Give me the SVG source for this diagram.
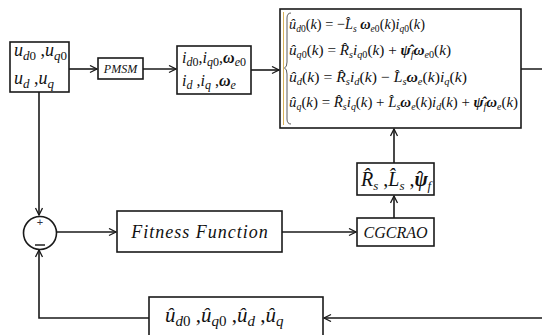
<svg xmlns="http://www.w3.org/2000/svg" width="542" height="335" viewBox="0 0 542 335">
<defs>
<marker id="arr" markerWidth="10" markerHeight="10" refX="8" refY="4" orient="auto" markerUnits="userSpaceOnUse">
<path d="M1,0.5 L8,4 L1,7.5" fill="none" stroke="#1a1a1a" stroke-width="1.3"/>
</marker>
</defs>
<style>
.box{fill:#fff;stroke:#1a1a1a;stroke-width:1.6}
.ln{fill:none;stroke:#1a1a1a;stroke-width:1.6}
.t{font-family:"Liberation Serif","Times New Roman",serif;font-style:italic;fill:#111}
.up{font-style:normal}
.b{font-weight:bold}
</style>
<rect width="542" height="335" fill="#fff"/>
<g id="connectors">
<line class="ln" x1="69" y1="69" x2="97" y2="69" marker-end="url(#arr)"/>
<line class="ln" x1="143" y1="69" x2="176" y2="69" marker-end="url(#arr)"/>
<line class="ln" x1="251" y1="70" x2="279" y2="70" marker-end="url(#arr)"/>
<path class="ln" d="M521,69 H546 V318 H324" marker-end="url(#arr)"/>
<line class="ln" x1="39" y1="92" x2="39" y2="215" marker-end="url(#arr)"/>
<line class="ln" x1="56" y1="232" x2="116" y2="232" marker-end="url(#arr)"/>
<line class="ln" x1="282" y1="232" x2="356" y2="232" marker-end="url(#arr)"/>
<line class="ln" x1="394" y1="218" x2="394" y2="196" marker-end="url(#arr)"/>
<line class="ln" x1="394" y1="163" x2="394" y2="129" marker-end="url(#arr)"/>
<path class="ln" d="M149,318 H39 V250" marker-end="url(#arr)"/>
</g>
<g id="input">
<rect class="box" x="10" y="42" width="59" height="50"/>
<text class="t" x="14" y="56" font-size="18">u<tspan font-size="13" dy="4">d</tspan><tspan font-size="13" class="up">0</tspan><tspan dy="-4" class="up"> ,</tspan>u<tspan font-size="13" dy="4">q</tspan><tspan font-size="13" class="up">0</tspan></text>
<text class="t" x="14" y="84" font-size="18">u<tspan font-size="13" dy="4">d</tspan><tspan dy="-4" class="up"> ,</tspan>u<tspan font-size="13" dy="4">q</tspan></text>
</g>
<g id="pmsm">
<rect class="box" x="98" y="58" width="45" height="21"/>
<text class="t" x="120.5" y="73" font-size="12" text-anchor="middle">PMSM</text>
</g>
<g id="currents">
<rect class="box" x="177" y="46" width="74" height="48"/>
<text class="t" x="182" y="63" font-size="16" textLength="64" lengthAdjust="spacing">i<tspan font-size="12" dy="3">d</tspan><tspan font-size="12" class="up">0</tspan><tspan dy="-3" class="up">,</tspan>i<tspan font-size="12" dy="3">q</tspan><tspan font-size="12" class="up">0</tspan><tspan dy="-3" class="up">,</tspan><tspan class="b">ω</tspan><tspan font-size="12" dy="3">e</tspan><tspan font-size="12" class="up">0</tspan></text>
<text class="t" x="182" y="86" font-size="16">i<tspan font-size="12" dy="3">d</tspan><tspan dy="-3" class="up"> ,</tspan>i<tspan font-size="12" dy="3">q</tspan><tspan dy="-3" class="up"> ,</tspan><tspan class="b">ω</tspan><tspan font-size="12" dy="3">e</tspan></text>
</g>
<g id="equations">
<rect class="box" x="280" y="9" width="241" height="119"/>
<line x1="283.5" y1="12" x2="283.5" y2="125" stroke="#d9b25a" stroke-width="1"/>
<path d="M291,13 Q287,13 287,18 V62 Q287,67 284.5,68 Q287,69 287,74 V119 Q287,124 291,124" fill="none" stroke="#333" stroke-width="0.8"/>
<text class="t" x="289" y="29" font-size="15" textLength="136" lengthAdjust="spacingAndGlyphs">û<tspan font-size="10" dy="3">d</tspan><tspan font-size="10" class="up">0</tspan><tspan dy="-3" class="up">(</tspan>k<tspan class="up">) = −</tspan>L̂<tspan font-size="10" dy="3">s</tspan><tspan dy="-3" class="b"> ω</tspan><tspan font-size="10" dy="3">e</tspan><tspan font-size="10" class="up">0</tspan><tspan dy="-3" class="up">(</tspan>k<tspan class="up">)</tspan>i<tspan font-size="10" dy="3">q</tspan><tspan font-size="10" class="up">0</tspan><tspan dy="-3" class="up">(</tspan>k<tspan class="up">)</tspan></text>
<text class="t" x="289" y="55" font-size="15" textLength="162" lengthAdjust="spacingAndGlyphs">û<tspan font-size="10" dy="3">q</tspan><tspan font-size="10" class="up">0</tspan><tspan dy="-3" class="up">(</tspan>k<tspan class="up">) = </tspan>R̂<tspan font-size="10" dy="3">s</tspan><tspan dy="-3">i</tspan><tspan font-size="10" dy="3">q</tspan><tspan font-size="10" class="up">0</tspan><tspan dy="-3" class="up">(</tspan>k<tspan class="up">) + </tspan><tspan class="b">ψ̂</tspan><tspan font-size="10" dy="3">f</tspan><tspan dy="-3" class="b">ω</tspan><tspan font-size="10" dy="3">e</tspan><tspan font-size="10" class="up">0</tspan><tspan dy="-3" class="up">(</tspan>k<tspan class="up">)</tspan></text>
<text class="t" x="289" y="82" font-size="15" textLength="178" lengthAdjust="spacingAndGlyphs">û<tspan font-size="10" dy="3">d</tspan><tspan dy="-3" class="up">(</tspan>k<tspan class="up">) = </tspan>R̂<tspan font-size="10" dy="3">s</tspan><tspan dy="-3">i</tspan><tspan font-size="10" dy="3">d</tspan><tspan dy="-3" class="up">(</tspan>k<tspan class="up">) − </tspan>L̂<tspan font-size="10" dy="3">s</tspan><tspan dy="-3" class="b">ω</tspan><tspan font-size="10" dy="3">e</tspan><tspan dy="-3" class="up">(</tspan>k<tspan class="up">)</tspan>i<tspan font-size="10" dy="3">q</tspan><tspan dy="-3" class="up">(</tspan>k<tspan class="up">)</tspan></text>
<text class="t" x="289" y="107" font-size="15" textLength="229" lengthAdjust="spacingAndGlyphs">û<tspan font-size="10" dy="3">q</tspan><tspan dy="-3" class="up">(</tspan>k<tspan class="up">) = </tspan>R̂<tspan font-size="10" dy="3">s</tspan><tspan dy="-3">i</tspan><tspan font-size="10" dy="3">q</tspan><tspan dy="-3" class="up">(</tspan>k<tspan class="up">) + </tspan>L̂<tspan font-size="10" dy="3">s</tspan><tspan dy="-3" class="b">ω</tspan><tspan font-size="10" dy="3">e</tspan><tspan dy="-3" class="up">(</tspan>k<tspan class="up">)</tspan>i<tspan font-size="10" dy="3">d</tspan><tspan dy="-3" class="up">(</tspan>k<tspan class="up">) + </tspan><tspan class="b">ψ̂</tspan><tspan font-size="10" dy="3">f</tspan><tspan dy="-3" class="b">ω</tspan><tspan font-size="10" dy="3">e</tspan><tspan dy="-3" class="up">(</tspan>k<tspan class="up">)</tspan></text>
</g>
<g id="params">
<rect class="box" x="357" y="163" width="77" height="32"/>
<text class="t" x="361" y="186" font-size="20">R̂<tspan font-size="13" dy="4">s</tspan><tspan dy="-4" class="up"> ,</tspan>L̂<tspan font-size="13" dy="4">s</tspan><tspan dy="-4" class="up"> ,</tspan><tspan class="b">ψ</tspan><tspan class="up" dx="-11">ˆ</tspan><tspan font-size="13" dy="4" dx="4">f</tspan></text>
</g>
<g id="cgcrao">
<rect class="box" x="357" y="218" width="77" height="28"/>
<text class="t" x="395.5" y="238" font-size="16" text-anchor="middle">CGCRAO</text>
</g>
<g id="fitness">
<rect class="box" x="117" y="211" width="165" height="41"/>
<text class="t" x="200" y="238" font-size="18" text-anchor="middle" letter-spacing="1">Fitness  Function</text>
</g>
<g id="sum">
<circle class="box" cx="40" cy="233" r="16.5"/>
<text x="40" y="226" font-family="Liberation Sans, sans-serif" font-size="11" text-anchor="middle" fill="#334">+</text>
<line x1="35" y1="245" x2="45" y2="245" stroke="#111" stroke-width="1.4"/>
</g>
<g id="estimates">
<rect class="box" x="149" y="297" width="174" height="50"/>
<text class="t" x="165" y="322" font-size="21">û<tspan font-size="15" dy="4">d</tspan><tspan font-size="15" class="up">0</tspan><tspan dy="-4" class="up"> ,</tspan>û<tspan font-size="15" dy="4">q</tspan><tspan font-size="15" class="up">0</tspan><tspan dy="-4" class="up"> ,</tspan>û<tspan font-size="15" dy="4">d</tspan><tspan dy="-4" class="up"> ,</tspan>û<tspan font-size="15" dy="4">q</tspan></text>
</g>
</svg>
